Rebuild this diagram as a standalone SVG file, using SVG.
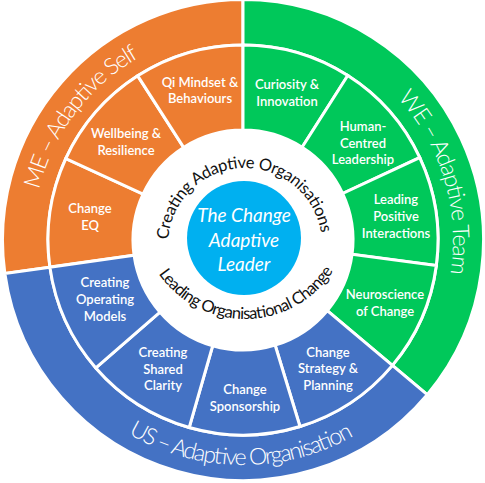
<svg xmlns="http://www.w3.org/2000/svg" width="485" height="483" viewBox="0 0 485 483">
<defs>
<style>
.seg{stroke:#fff;stroke-width:3;stroke-linejoin:miter}
.o{fill:#ED7D31}.g{fill:#00C85A}.b{fill:#4472C4}
.lbl{font-family:Lato,"Open Sans","Liberation Sans",sans-serif;font-size:13px;fill:#fff;text-anchor:middle;font-weight:600}
.band{font-family:Lato,"Open Sans","Liberation Sans",sans-serif;font-size:23px;font-weight:300;fill:#fff;text-anchor:middle}
.ring{font-family:Lato,"Open Sans","Liberation Sans",sans-serif;font-size:16.5px;fill:#111;text-anchor:middle}
.core{font-family:Lato,"Open Sans","Liberation Sans",sans-serif;font-style:italic;font-size:19px;fill:#fff;text-anchor:middle}
</style>
<path id="pME" d="M 35.04 269.23 A 210 210 0 0 1 243 30" fill="none"/>
<path id="pWE" d="M 243 30 A 210 210 0 0 1 403.87 374.99" fill="none"/>
<path id="pUS" d="M 20.19 271.31 A 225 225 0 0 0 415.36 384.63" fill="none"/>
<path id="pTop" d="M 168 245 A 77 77 0 0 1 322 245" fill="none"/>
<path id="pBot" d="M 140 214 A 105 105 0 0 0 350 214" fill="none"/>
</defs>
<rect width="485" height="483" fill="#fff"/>

<g id="me-band">
<path class="seg o" d="M 4.84 273.47 A 240.5 240.5 0 0 1 243 -0.5 L 243 45 A 195 195 0 0 0 49.90 267.14 Z"/>
<text class="band" textLength="170"><textPath href="#pME" startOffset="46%">ME – Adaptive Self</textPath></text>
</g>
<g id="we-band">
<path class="seg g" d="M 243 -0.5 A 240.5 240.5 0 0 1 427.23 394.59 L 392.38 365.34 A 195 195 0 0 0 243 45 Z"/>
<text class="band" textLength="190"><textPath href="#pWE" startOffset="56.4%">WE – Adaptive Team</textPath></text>
</g>
<g id="us-band">
<path class="seg b" d="M 427.23 394.59 A 240.5 240.5 0 0 1 4.84 273.47 L 49.90 267.14 A 195 195 0 0 0 392.38 365.34 Z"/>
<text class="band" textLength="236"><textPath href="#pUS" startOffset="61.7%">US – Adaptive Organisation</textPath></text>
</g>

<g id="change-eq">
<path class="seg o" d="M 49.90 267.14 A 195 195 0 0 1 65.80 158.61 L 143.04 194.09 A 110 110 0 0 0 134.07 255.31 Z"/>
<text class="lbl" x="90" y="213">Change</text><text class="lbl" x="90" y="230">EQ</text>
</g>
<g id="wellbeing">
<path class="seg o" d="M 65.80 158.61 A 195 195 0 0 1 137.74 75.85 L 183.62 147.40 A 110 110 0 0 0 143.04 194.09 Z"/>
<text class="lbl" x="126" y="138">Wellbeing &amp;</text><text class="lbl" x="126" y="155">Resilience</text>
</g>
<g id="qi-mindset">
<path class="seg o" d="M 137.74 75.85 A 195 195 0 0 1 243 45 L 243 130 A 110 110 0 0 0 183.62 147.40 Z"/>
<text class="lbl" x="200" y="87">Qi Mindset &amp;</text><text class="lbl" x="200" y="103">Behaviours</text>
</g>
<g id="curiosity">
<path class="seg g" d="M 243 45 A 195 195 0 0 1 347.77 75.54 L 302.10 147.23 A 110 110 0 0 0 243 130 Z"/>
<text class="lbl" x="287" y="89">Curiosity &amp;</text><text class="lbl" x="287" y="106">Innovation</text>
</g>
<g id="human-centred">
<path class="seg g" d="M 347.77 75.54 A 195 195 0 0 1 419.73 157.59 L 342.69 193.51 A 110 110 0 0 0 302.10 147.23 Z"/>
<text class="lbl" x="363" y="131">Human-</text><text class="lbl" x="363" y="148">Centred</text><text class="lbl" x="363" y="164">Leadership</text>
</g>
<g id="leading-positive">
<path class="seg g" d="M 419.73 157.59 A 195 195 0 0 1 436.33 265.45 L 352.06 254.36 A 110 110 0 0 0 342.69 193.51 Z"/>
<text class="lbl" x="396" y="204">Leading</text><text class="lbl" x="396" y="221">Positive</text><text class="lbl" x="396" y="238">Interactions</text>
</g>
<g id="neuroscience">
<path class="seg g" d="M 436.33 265.45 A 195 195 0 0 1 392.38 365.34 L 327.26 310.71 A 110 110 0 0 0 352.06 254.36 Z"/>
<text class="lbl" x="385" y="299">Neuroscience</text><text class="lbl" x="385" y="316">of Change</text>
</g>
<g id="strategy">
<path class="seg b" d="M 392.38 365.34 A 195 195 0 0 1 300.01 426.48 L 275.16 345.19 A 110 110 0 0 0 327.26 310.71 Z"/>
<text class="lbl" x="328" y="357">Change</text><text class="lbl" x="328" y="373">Strategy &amp;</text><text class="lbl" x="328" y="390">Planning</text>
</g>
<g id="sponsorship">
<path class="seg b" d="M 300.01 426.48 A 195 195 0 0 1 189.25 427.45 L 212.68 345.74 A 110 110 0 0 0 275.16 345.19 Z"/>
<text class="lbl" x="245" y="394">Change</text><text class="lbl" x="245" y="411">Sponsorship</text>
</g>
<g id="shared-clarity">
<path class="seg b" d="M 189.25 427.45 A 195 195 0 0 1 95.83 367.93 L 159.98 312.17 A 110 110 0 0 0 212.68 345.74 Z"/>
<text class="lbl" x="163" y="357">Creating</text><text class="lbl" x="163" y="374">Shared</text><text class="lbl" x="163" y="390">Clarity</text>
</g>
<g id="operating-models">
<path class="seg b" d="M 95.83 367.93 A 195 195 0 0 1 49.90 267.14 L 134.07 255.31 A 110 110 0 0 0 159.98 312.17 Z"/>
<text class="lbl" x="105" y="287">Creating</text><text class="lbl" x="105" y="304">Operating</text><text class="lbl" x="105" y="321">Models</text>
</g>

<g id="ring">
<text class="ring" textLength="224"><textPath href="#pTop" startOffset="48.6%">Creating Adaptive Organisations</textPath></text>
<text class="ring" font-size="15.5" textLength="206"><textPath href="#pBot" startOffset="50.5%">Leading Organisational Change</textPath></text>
</g>

<g id="core">
<circle cx="244" cy="238" r="57" fill="#00B0F0"/>
<text class="core" x="244" y="222">The Change</text>
<text class="core" x="244" y="247">Adaptive</text>
<text class="core" x="244" y="271">Leader</text>
</g>

<g id="connectors"/>
</svg>
